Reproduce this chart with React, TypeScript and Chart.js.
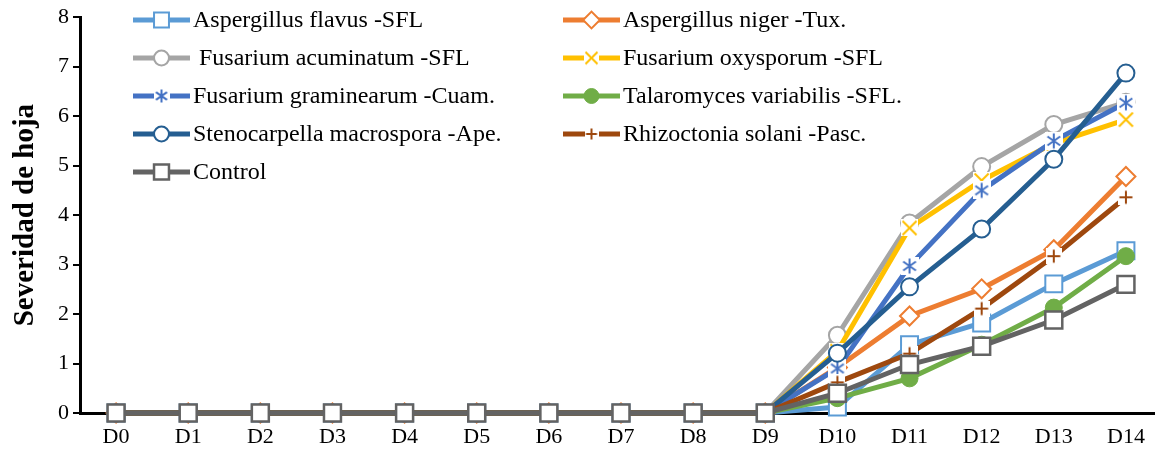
import React, { useEffect, useRef } from "react";
import { Chart, registerables } from "chart.js";
import { drawPoint } from "chart.js/helpers";

Chart.register(...registerables);

const categories = ["D0", "D1", "D2", "D3", "D4", "D5", "D6", "D7", "D8", "D9", "D10", "D11", "D12", "D13", "D14"];

const aspergillusFlavus = [0, 0, 0, 0, 0, 0, 0, 0, 0, 0, 0.12, 1.38, 1.82, 2.61, 3.28];
const aspergillusNiger = [0, 0, 0, 0, 0, 0, 0, 0, 0, 0, 0.92, 1.96, 2.51, 3.3, 4.78];
const fusariumAcuminatum = [0, 0, 0, 0, 0, 0, 0, 0, 0, 0, 1.57, 3.84, 4.98, 5.83, 6.28];
const fusariumOxysporum = [0, 0, 0, 0, 0, 0, 0, 0, 0, 0, 1.25, 3.74, 4.7, 5.45, 5.93];
const fusariumGraminearum = [0, 0, 0, 0, 0, 0, 0, 0, 0, 0, 0.9, 2.97, 4.5, 5.5, 6.27];
const talaromycesVariabilis = [0, 0, 0, 0, 0, 0, 0, 0, 0, 0, 0.3, 0.7, 1.38, 2.13, 3.17];
const stenocarpellaMacrospora = [0, 0, 0, 0, 0, 0, 0, 0, 0, 0, 1.21, 2.55, 3.72, 5.13, 6.87];
const rhizoctoniaSolani = [0, 0, 0, 0, 0, 0, 0, 0, 0, 0, 0.62, 1.2, 2.11, 3.17, 4.36];
const control = [0, 0, 0, 0, 0, 0, 0, 0, 0, 0, 0.4, 0.98, 1.35, 1.88, 2.6];

const seriesNames = [
  "Aspergillus flavus -SFL",
  "Aspergillus niger -Tux.",
  " Fusarium acuminatum -SFL",
  "Fusarium oxysporum -SFL",
  "Fusarium graminearum -Cuam.",
  "Talaromyces variabilis -SFL.",
  "Stenocarpella macrospora -Ape.",
  "Rhizoctonia solani -Pasc.",
  "Control",
];
const seriesData = [
  aspergillusFlavus,
  aspergillusNiger,
  fusariumAcuminatum,
  fusariumOxysporum,
  fusariumGraminearum,
  talaromycesVariabilis,
  stenocarpellaMacrospora,
  rhizoctoniaSolani,
  control,
];
const seriesColors = ["#5B9BD5", "#ED7D31", "#A5A5A5", "#FFC000", "#4472C4", "#70AD47", "#255E91", "#9E480E", "#636363"];
const yAxisTitle = "Severidad de hoja";
const yMin = 0;
const yMax = 8;

const FONT = "'Liberation Serif', 'Times New Roman', serif";

// Line-type markers (x, +, *) drawn over a white square, like the spreadsheet markers
function makeGlyph(kind: string, color: string, size: number) {
  const c = document.createElement("canvas");
  c.width = size;
  c.height = size;
  const g = c.getContext("2d")!;
  g.fillStyle = "#ffffff";
  g.fillRect(0, 0, size, size);
  const m = size / 2;
  const r = size / 2 - 1.5;
  g.strokeStyle = color;
  g.lineWidth = 2;
  g.lineCap = "butt";
  g.beginPath();
  if (kind === "x") {
    g.moveTo(m - r, m - r);
    g.lineTo(m + r, m + r);
    g.moveTo(m - r, m + r);
    g.lineTo(m + r, m - r);
  } else if (kind === "plus") {
    g.moveTo(m, m - r);
    g.lineTo(m, m + r);
    g.moveTo(m - r, m);
    g.lineTo(m + r, m);
  } else {
    g.moveTo(m, m - r);
    g.lineTo(m, m + r);
    const d = r * 0.85;
    g.moveTo(m - d, m - d * 0.7);
    g.lineTo(m + d, m + d * 0.7);
    g.moveTo(m - d, m + d * 0.7);
    g.lineTo(m + d, m - d * 0.7);
  }
  g.stroke();
  return c;
}

export default function App() {
  const canvasRef = useRef<HTMLCanvasElement | null>(null);

  useEffect(() => {
    const canvas = canvasRef.current;
    if (!canvas) return;

    const markerStyles: any[] = [
      { pointStyle: "rect", radius: 12, bg: "#ffffff", bw: 2 },
      { pointStyle: "rectRot", radius: 9.5, bg: "#ffffff", bw: 2 },
      { pointStyle: "circle", radius: 8.5, bg: "#ffffff", bw: 2 },
      {
        pointStyle: makeGlyph("x", seriesColors[3], 17),
        legendStyle: makeGlyph("x", seriesColors[3], 15),
        radius: 9,
        bg: "#ffffff",
        bw: 2,
      },
      {
        pointStyle: makeGlyph("star", seriesColors[4], 18),
        legendStyle: makeGlyph("star", seriesColors[4], 16),
        radius: 9,
        bg: "#ffffff",
        bw: 2,
      },
      { pointStyle: "circle", radius: 8.5, bg: seriesColors[5], bw: 1 },
      { pointStyle: "circle", radius: 8.5, bg: "#ffffff", bw: 2 },
      {
        pointStyle: makeGlyph("plus", seriesColors[7], 16),
        legendStyle: makeGlyph("plus", seriesColors[7], 14),
        radius: 8,
        bg: "#ffffff",
        bw: 2,
      },
      { pointStyle: "rect", radius: 12, bg: "#ffffff", bw: 2.5 },
    ];

    const n = seriesNames.length;
    const datasets = seriesNames.map((name, i) => ({
      label: name,
      data: seriesData[i],
      borderColor: seriesColors[i],
      backgroundColor: seriesColors[i],
      borderWidth: 5,
      tension: 0,
      pointStyle: markerStyles[i].pointStyle,
      pointRadius: markerStyles[i].radius,
      pointBackgroundColor: markerStyles[i].bg,
      pointBorderColor: seriesColors[i],
      pointBorderWidth: markerStyles[i].bw,
      clip: false as any,
      order: n - i,
    }));

    const legendPlugin = {
      id: "customLegend",
      afterDraw(chart: any) {
        const ctx = chart.ctx as CanvasRenderingContext2D;
        ctx.save();
        seriesNames.forEach((name, i) => {
          const col = i % 2;
          const row = Math.floor(i / 2);
          const x0 = col === 0 ? 133 : 563;
          const y = 20 + row * 38;
          const color = seriesColors[i];
          ctx.strokeStyle = color;
          ctx.lineWidth = 5;
          ctx.lineCap = "butt";
          ctx.beginPath();
          ctx.moveTo(x0, y);
          ctx.lineTo(x0 + 57, y);
          ctx.stroke();
          const ms = markerStyles[i];
          ctx.lineWidth = ms.bw;
          ctx.strokeStyle = color;
          ctx.fillStyle = ms.bg;
          drawPoint(
            ctx,
            {
              pointStyle: ms.legendStyle || ms.pointStyle,
              radius: ms.radius * 0.88,
              rotation: 0,
              borderWidth: ms.bw,
            } as any,
            x0 + 28.5,
            y
          );
          ctx.fillStyle = "#000000";
          ctx.font = `24px ${FONT}`;
          ctx.textAlign = "left";
          ctx.textBaseline = "middle";
          ctx.fillText(name, x0 + 60, y + 1);
        });
        ctx.restore();
      },
    };

    const chart = new Chart(canvas, {
      type: "line",
      data: { labels: categories, datasets },
      options: {
        animation: false,
        responsive: false,
        devicePixelRatio: 1,
        layout: { autoPadding: false, padding: { top: 15, right: 0, bottom: 0, left: 0 } },
        plugins: {
          legend: { display: false },
          tooltip: { enabled: false },
        },
        scales: {
          x: {
            type: "category",
            offset: true,
            grid: { display: false, drawTicks: false },
            border: { display: true, color: "#000000", width: 3 },
            ticks: {
              color: "#000000",
              font: { family: FONT, size: 22 },
              padding: 11,
              maxRotation: 0,
              autoSkip: false,
            },
            afterFit: (s: any) => {
              s.height = 42;
              s.paddingLeft = 0;
              s.paddingRight = 0;
            },
          },
          y: {
            min: yMin,
            max: yMax,
            grid: {
              display: true,
              drawOnChartArea: false,
              drawTicks: true,
              tickLength: 7,
              color: "#000000",
              lineWidth: 2,
            },
            border: { display: true, color: "#000000", width: 3 },
            ticks: {
              stepSize: 1,
              color: "#000000",
              font: { family: FONT, size: 22 },
              padding: 4,
            },
            title: {
              display: true,
              text: yAxisTitle,
              color: "#000000",
              font: { family: FONT, size: 29, weight: "bold" },
              padding: { top: 8, bottom: 0 },
            },
            afterFit: (s: any) => {
              s.width = 80;
            },
          },
        },
      },
      plugins: [legendPlugin],
    });

    return () => {
      chart.destroy();
    };
  }, []);

  return (
    <div
      style={{
        position: "absolute",
        left: 0,
        top: 0,
        width: 1155,
        height: 455,
        overflow: "hidden",
        background: "#ffffff",
      }}
    >
      <canvas ref={canvasRef} width={1162} height={455} style={{ display: "block" }} />
    </div>
  );
}
